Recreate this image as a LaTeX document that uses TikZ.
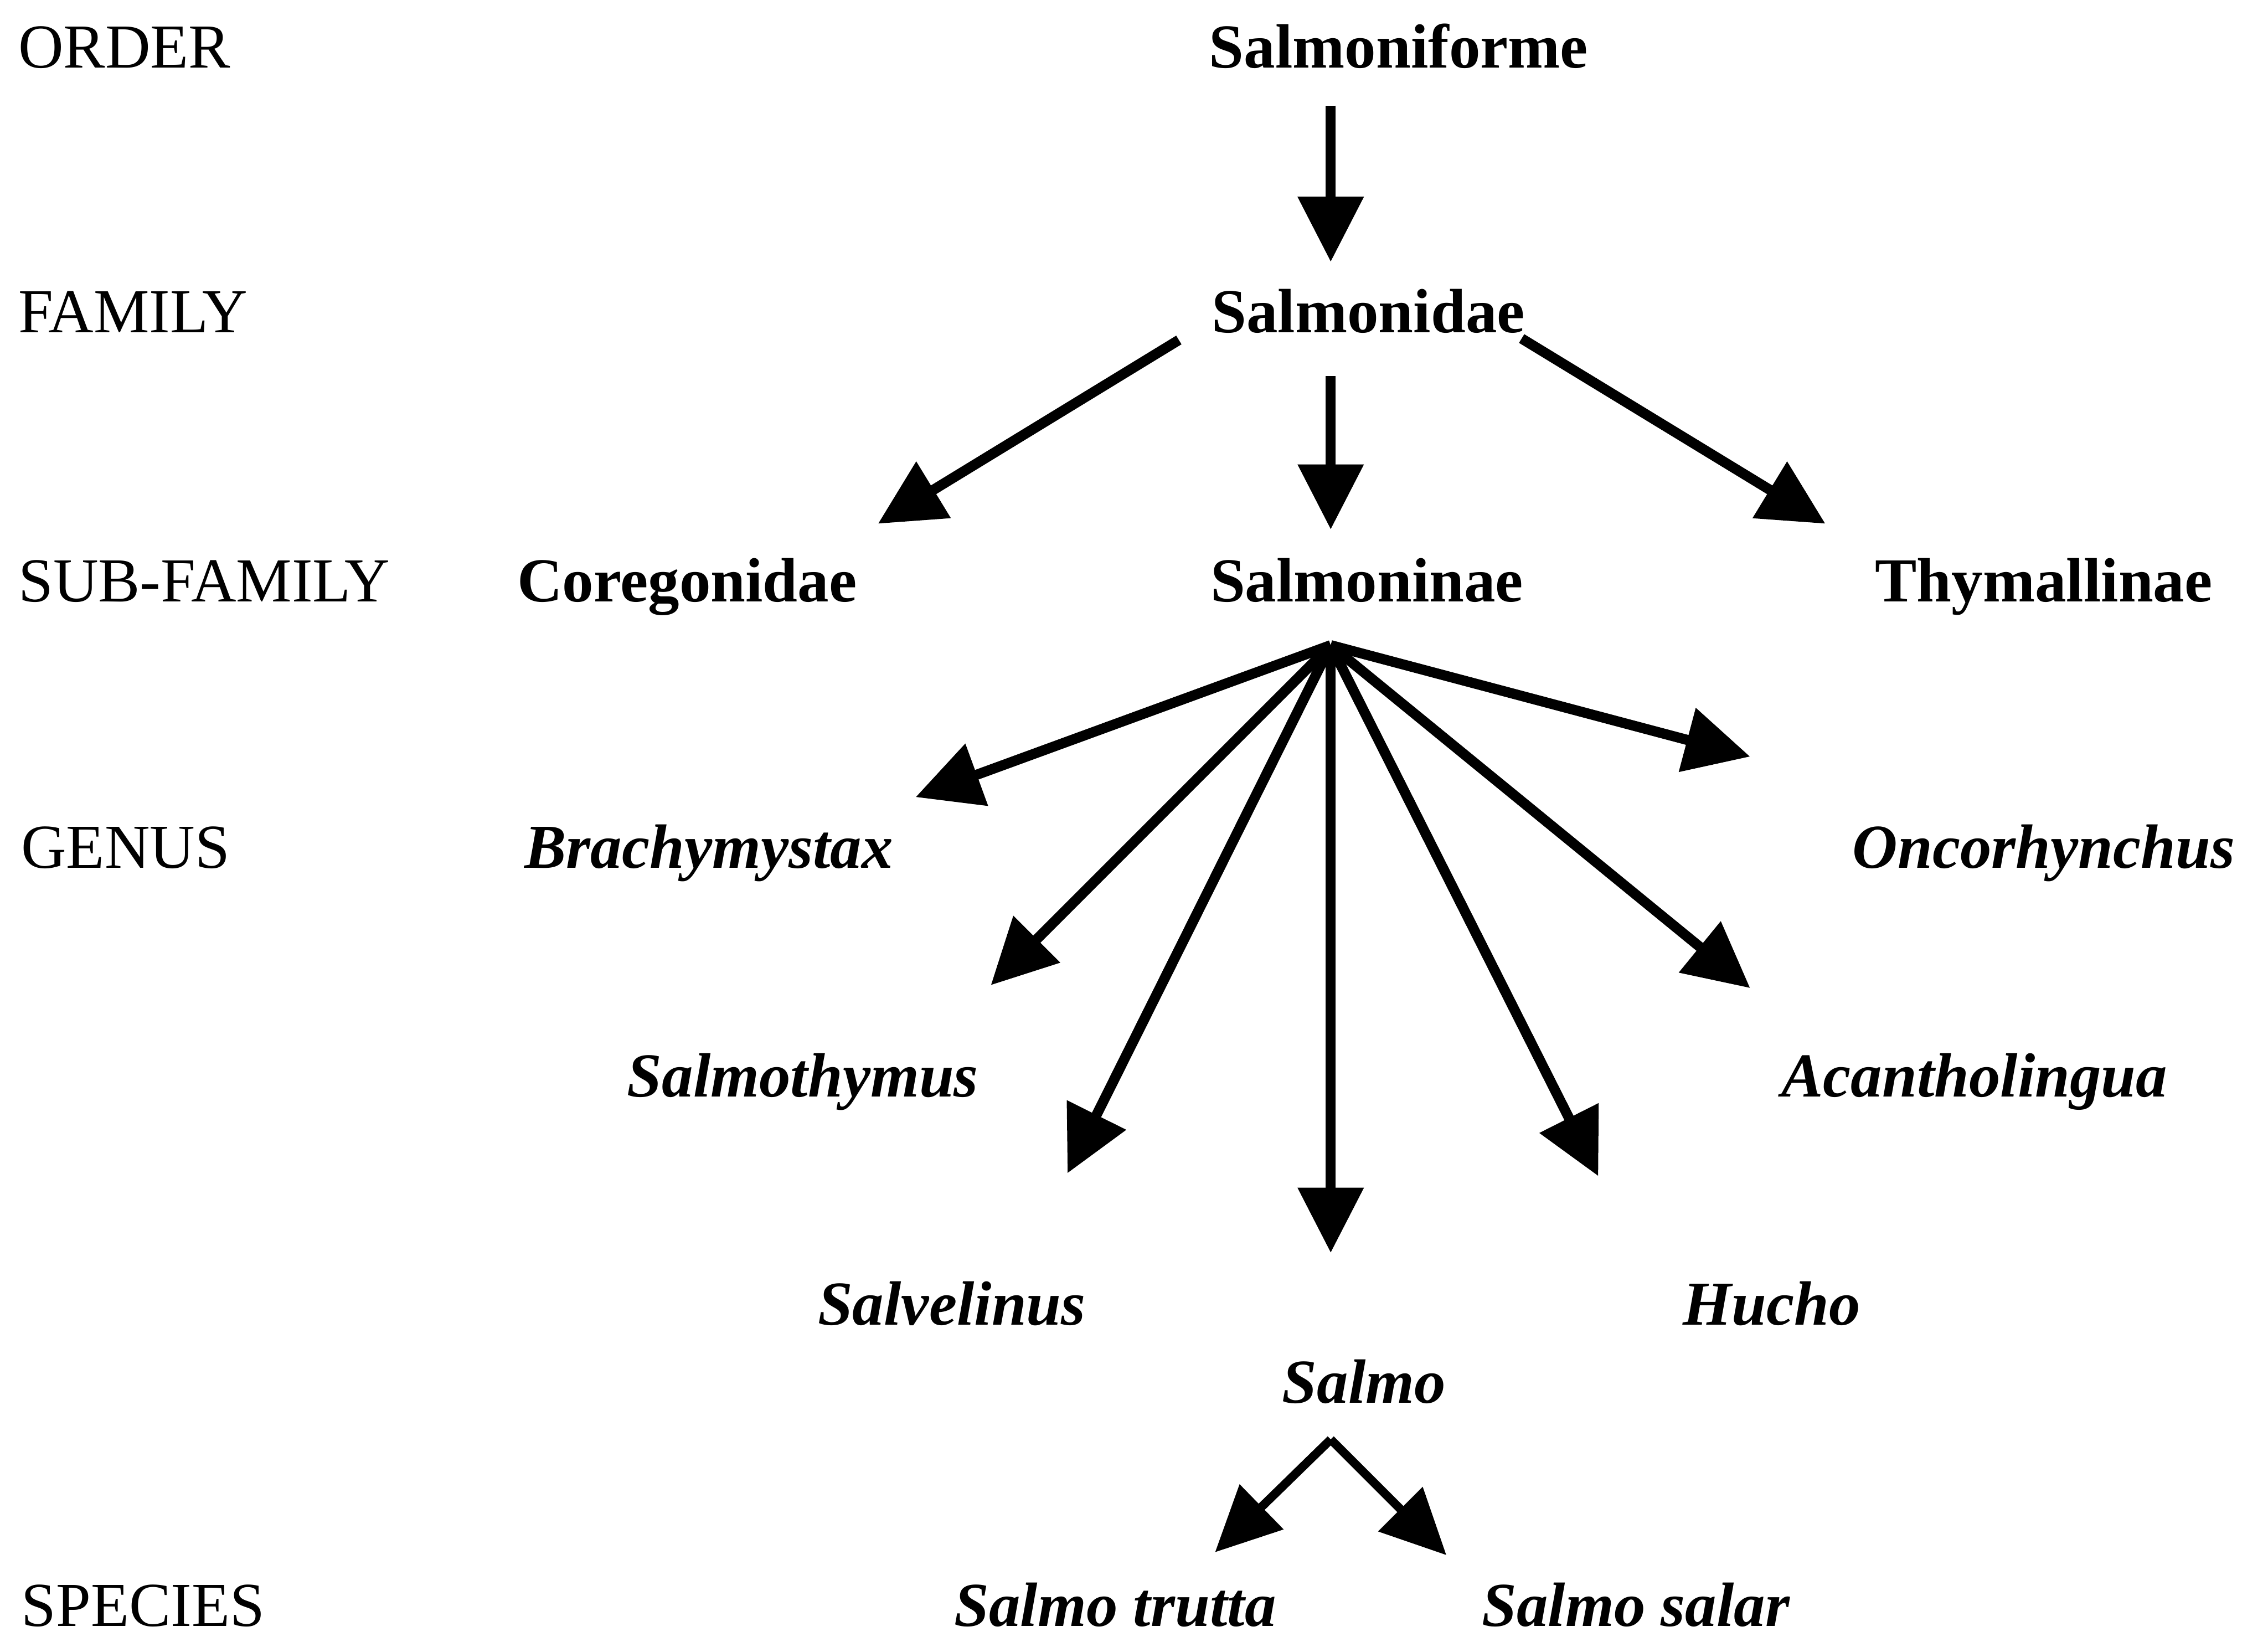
\documentclass[tikz,border=0pt]{standalone}
\usepackage{fontspec}
\setmainfont{Liberation Serif}
\usetikzlibrary{arrows.meta}
\begin{document}
\begin{tikzpicture}[x=0.01cm,y=-0.01cm,
  rank/.style={anchor=base west,inner sep=0pt,font=\fontsize{12.3}{14}\selectfont},
  taxon/.style={anchor=base,inner sep=0pt,font=\fontsize{12.3}{14}\selectfont\bfseries},
  genus/.style={anchor=base,inner sep=0pt,font=\fontsize{12.3}{14}\selectfont\bfseries\itshape},
  link/.style={line width=2pt,-{Triangle[width=0.44cm,length=0.45cm]}},
  thinlink/.style={line width=1.7pt,-{Triangle[width=0.42cm,length=0.45cm]}}
]
\useasboundingbox (0,0) rectangle (1568,1135);
% rank labels
\node[rank] (rOrder) at (12,47) {ORDER};
\node[rank] (rFamily) at (12,230) {FAMILY};
\node[rank] (rSub) at (12,416) {SUB-FAMILY};
\node[rank] (rGenus) at (14,600) {GENUS};
\node[rank] (rSpecies) at (14,1124) {SPECIES};
% taxa
\node[taxon] (order) at (967,47) {Salmoniforme};
\node[taxon] (family) at (946,230) {Salmonidae};
\node[taxon] (coreg) at (475,416) {Coregonidae};
\node[taxon] (salmoninae) at (945,416) {Salmoninae};
\node[taxon] (thym) at (1413,416) {Thymallinae};
\node[genus] (brachy) at (490,600) {Brachymystax};
\node[genus] (onco) at (1413,600) {Oncorhynchus};
\node[genus] (salmothy) at (555,758) {Salmothymus};
\node[genus] (acanth) at (1365,758) {Acantholingua};
\node[genus] (salvel) at (658,916) {Salvelinus};
\node[genus] (hucho) at (1225,916) {Hucho};
\node[genus] (salmo) at (943,970) {Salmo};
\node[genus] (trutta) at (771,1124) {Salmo trutta};
\node[genus] (salar) at (1131,1124) {Salmo salar};
% connector end points
\coordinate (oTail) at (920,73);
\coordinate (oTip) at (920,181);
\coordinate (fTailL) at (815,235);
\coordinate (fTipL) at (607,362);
\coordinate (fTailC) at (920,260);
\coordinate (fTipC) at (920,366);
\coordinate (fTailR) at (1052,234);
\coordinate (fTipR) at (1262,362);
\coordinate (fan) at (920,446);
\coordinate (tBrachy) at (633,551);
\coordinate (tSalmothy) at (685,681);
\coordinate (tSalvel) at (738,811);
\coordinate (tSalmo) at (920,866);
\coordinate (tHucho) at (1105,813);
\coordinate (tAcanth) at (1210,683);
\coordinate (tOnco) at (1210,523);
\coordinate (sfan) at (920,995);
\coordinate (tTrutta) at (840,1073);
\coordinate (tSalar) at (1000,1075);
% connectors
\draw[link] (oTail) -- (oTip);
\draw[link] (fTailL) -- (fTipL);
\draw[link] (fTailC) -- (fTipC);
\draw[link] (fTailR) -- (fTipR);
\draw[link] (fan) -- (tBrachy);
\draw[link] (fan) -- (tSalmothy);
\draw[link] (fan) -- (tSalvel);
\draw[link] (fan) -- (tSalmo);
\draw[link] (fan) -- (tHucho);
\draw[link] (fan) -- (tAcanth);
\draw[link] (fan) -- (tOnco);
\draw[thinlink] (sfan) -- (tTrutta);
\draw[thinlink] (sfan) -- (tSalar);
\end{tikzpicture}
\end{document}
